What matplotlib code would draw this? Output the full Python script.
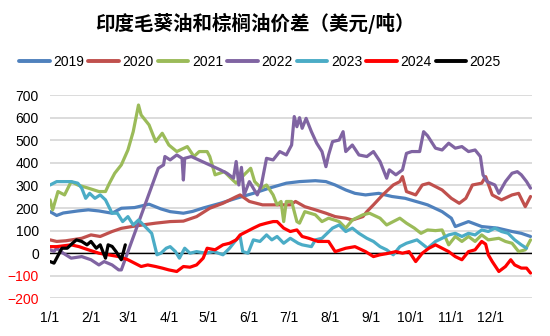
import matplotlib
matplotlib.use("Agg")
import matplotlib.pyplot as plt

plt.rcParams['font.family'] = ['Liberation Sans', 'Noto Sans CJK SC', 'DejaVu Sans']

title = "印度毛葵油和棕榈油价差（美元/吨）"

month_days = [0, 31, 59, 90, 120, 151, 181, 212, 243, 273, 304, 334]
month_labels = ["1/1", "2/1", "3/1", "4/1", "5/1", "6/1", "7/1", "8/1", "9/1", "10/1", "11/1", "12/1"]
y_ticks = [-200, -100, 0, 100, 200, 300, 400, 500, 600, 700]

# day of year -> spread (USD/t), one pair of lists per year
d2019 = [0, 5, 10, 21, 29, 37, 47, 54, 64, 75, 84, 91, 101, 108, 116, 129, 141, 154, 166, 179,
         189, 201, 209, 216, 224, 231, 239, 249, 259, 269, 282, 286, 297, 304, 307, 317, 327, 339,
         350, 357, 364]
v2019 = [184, 167, 178, 187, 192, 187, 177, 199, 202, 217, 196, 184, 177, 185, 200, 221, 243, 265,
         288, 310, 317, 321, 317, 302, 280, 265, 258, 265, 251, 243, 221, 214, 184, 155, 118, 140,
         118, 111, 96, 88, 74]

d2020 = [0, 5, 12, 24, 31, 38, 47, 54, 62, 70, 80, 91, 101, 111, 121, 131, 141, 144, 151, 161,
         172, 182, 186, 193, 201, 209, 216, 224, 229, 237, 240, 245, 252, 260, 265, 267, 270, 277,
         282, 287, 292, 297, 304, 310, 315, 320, 327, 330, 335, 342, 350, 355, 360, 364]
v2020 = [59, 52, 55, 66, 81, 74, 96, 110, 118, 125, 133, 140, 142, 162, 199, 221, 250, 258, 229,
         214, 214, 214, 229, 206, 192, 177, 162, 155, 147, 162, 184, 214, 258, 302, 317, 339, 273,
         258, 302, 310, 295, 280, 243, 221, 243, 302, 310, 339, 258, 236, 258, 265, 206, 251]

d2021 = [0, 2, 6, 11, 16, 21, 29, 37, 42, 45, 49, 54, 59, 63, 67, 69, 75, 80, 85, 90, 96, 104,
         109, 113, 119, 121, 125, 132, 137, 141, 147, 152, 155, 160, 164, 169, 172, 175, 177, 179,
         183, 187, 189, 193, 201, 206, 211, 219, 224, 229, 237, 242, 250, 255, 260, 265, 270, 276,
         281, 286, 292, 297, 302, 307, 312, 317, 322, 327, 332, 340, 345, 350, 355, 360, 364]
v2021 = [236, 192, 273, 258, 317, 302, 288, 273, 273, 310, 354, 391, 457, 538, 656, 612, 568, 494,
         531, 479, 450, 472, 428, 450, 450, 428, 347, 361, 332, 310, 347, 376, 317, 288, 302, 258,
         214, 229, 140, 229, 229, 140, 133, 184, 170, 140, 155, 140, 111, 147, 170, 177, 155, 125,
         140, 155, 133, 111, 88, 103, 100, 103, 37, 74, 52, 74, 52, 81, 59, 66, 52, 44, 7, 15, 59]

d2022 = [0, 3, 5, 10, 16, 24, 31, 37, 41, 47, 52, 54, 82, 86, 87, 91, 96, 100, 101, 102, 107, 129,
         134, 139, 141, 143, 145, 147, 151, 157, 160, 164, 169, 174, 179, 183, 185, 187, 189, 191,
         194, 198, 202, 206, 209, 211, 214, 219, 222, 224, 229, 234, 240, 245, 250, 255, 257, 262,
         267, 270, 274, 280, 283, 286, 292, 297, 302, 307, 312, 317, 322, 326, 328, 331, 337, 340,
         345, 350, 354, 357, 361, 364]
v2022 = [15, 8, 22, 0, -22, -15, -29, -52, -37, -52, -74, -74, 376, 391, 428, 413, 435, 420, 324,
         420, 428, 369, 354, 332, 406, 302, 380, 258, 317, 258, 300, 420, 413, 450, 435, 479, 605,
         560, 600, 553, 597, 538, 487, 450, 383, 435, 494, 501, 538, 450, 479, 435, 428, 450, 406,
         332, 369, 347, 369, 442, 450, 450, 538, 520, 465, 457, 487, 465, 472, 450, 457, 428, 347,
         317, 302, 265, 317, 354, 361, 347, 317, 288]

d2023 = [0, 5, 16, 21, 24, 27, 30, 34, 38, 42, 47, 51, 55, 59, 63, 67, 72, 77, 81, 84, 88, 91, 95,
         98, 102, 106, 111, 118, 124, 131, 136, 141, 144, 146, 150, 154, 159, 164, 168, 172, 177,
         182, 188, 191, 198, 201, 206, 214, 219, 224, 229, 234, 240, 245, 250, 255, 260, 265, 270,
         278, 286, 292, 297, 302, 307, 312, 317, 322, 327, 332, 337, 342, 347, 352, 357, 361]
v2023 = [302, 317, 317, 310, 288, 243, 265, 243, 258, 236, 177, 177, 140, 162, 125, 147, 118, 88,
         -7, 0, 22, 29, 7, -22, 22, 0, 7, 0, 7, -7, 22, 59, 74, 7, 0, 59, 52, 81, 59, 74, 44, 66, 44,
         37, 29, 59, 66, 111, 125, 96, 111, 88, 66, 52, 29, 15, -7, 29, 44, 59, 22, 52, 66, 81, 88,
         74, 88, 81, 103, 96, 111, 96, 88, 59, 37, 22]

d2024 = [0, 5, 16, 22, 29, 37, 44, 52, 59, 64, 69, 74, 80, 85, 90, 96, 101, 106, 111, 116, 119,
         125, 131, 136, 141, 144, 149, 154, 159, 164, 169, 172, 177, 182, 187, 191, 196, 203, 211,
         216, 224, 231, 239, 245, 250, 255, 262, 267, 272, 277, 282, 287, 292, 297, 302, 307, 312,
         317, 322, 327, 330, 332, 335, 340, 345, 349, 352, 357, 361, 364]
v2024 = [29, 29, 37, 29, 15, 0, -7, -15, -29, -44, -59, -52, -59, -66, -74, -81, -59, -62, -52,
         -22, 22, 15, 37, 44, 59, 81, 96, 111, 125, 133, 140, 140, 111, 96, 103, 74, 66, 52, 52, 7,
         22, 29, 7, -15, -7, -2, 7, 0, 7, -37, 0, 22, 37, 22, 7, -15, -29, 7, 15, 52, 40, -7, -37,
         -81, -59, -29, -52, -66, -66, -88]

d2025 = [0, 3, 5, 9, 13, 17, 20, 24, 28, 31, 35, 38, 42, 44, 47, 50, 54, 57]
v2025 = [-37, -44, -22, 22, 22, 44, 59, 52, 37, 52, 22, 37, -22, 37, 30, 7, -29, 37]

series = [
    ("2019", d2019, v2019, "#4F81BD"),
    ("2020", d2020, v2020, "#C0504D"),
    ("2021", d2021, v2021, "#9BBB59"),
    ("2022", d2022, v2022, "#8064A2"),
    ("2023", d2023, v2023, "#4BACC6"),
    ("2024", d2024, v2024, "#FF0000"),
    ("2025", d2025, v2025, "#000000"),
]

fig = plt.figure(figsize=(5.5, 3.36), dpi=100)
ax = fig.add_axes([0.091, 0.112, 0.876, 0.605])

for label, d, v, c in series:
    ax.plot(d, v, color=c, lw=2.3, label=label,
            solid_joinstyle="round", solid_capstyle="round")

ax.axhline(0, color="black", lw=1.0, zorder=1.5)
ax.set_ylim(-200, 700)
ax.set_xlim(0, 365)
ax.set_yticks(y_ticks)
ax.set_xticks(month_days)
ax.set_xticklabels(month_labels)
ax.grid(axis="y", color="#d9d9d9", lw=1.3)
ax.set_axisbelow(True)
for s in ax.spines.values():
    s.set_visible(False)
ax.tick_params(axis="both", length=0, labelsize=10)
ax.tick_params(axis="y", pad=8)
ax.tick_params(axis="x", pad=9)
for t, val in zip(ax.get_yticklabels(), y_ticks):
    if val < 0:
        t.set_color("red")

fig.text(0.463, 0.93, title, ha="center", va="center", fontsize=14, fontweight="bold",
         family=["Noto Sans CJK SC", "DejaVu Sans"])

leg = fig.legend(loc="center", bbox_to_anchor=(0.473, 0.815), ncol=7, frameon=False,
                 fontsize=10, handlelength=2.2, handletextpad=0.25, columnspacing=0.3)
for h in leg.get_lines():
    h.set_linewidth(2.8)

fig.savefig("out.png", dpi=100)
